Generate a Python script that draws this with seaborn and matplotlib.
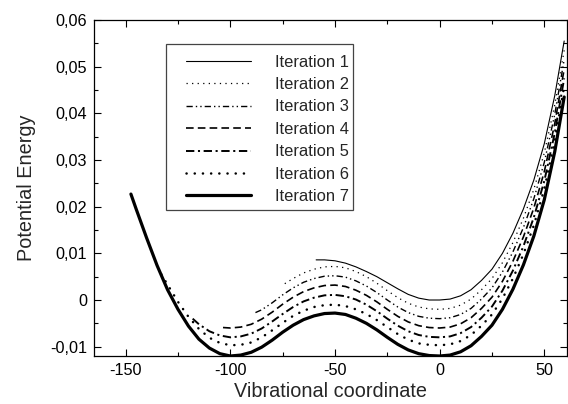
import matplotlib
matplotlib.use("Agg")
import matplotlib.pyplot as plt
import seaborn as sns
import pandas as pd
from matplotlib.patches import Rectangle
from matplotlib.ticker import MultipleLocator, FuncFormatter
from matplotlib.font_manager import FontProperties

# ---------------- data ----------------
labels = ["Iteration 1", "Iteration 2", "Iteration 3", "Iteration 4",
          "Iteration 5", "Iteration 6", "Iteration 7"]

x1 = [-59, -55, -50, -45, -40, -35, -30, -25, -20, -15, -10, -5, 0, 5, 10, 15,
      20, 25, 30, 35, 40, 45, 50, 55, 59.5]
y1 = [0.0086, 0.0086, 0.0084, 0.0079, 0.0071, 0.0061, 0.0050, 0.0037, 0.0024,
      0.0012, 0.0004, 0.0000, 0.0000, 0.0002, 0.0009, 0.0022, 0.0042, 0.0066,
      0.0100, 0.0143, 0.0195, 0.0257, 0.0335, 0.0438, 0.0555]

x2 = [-74, -70, -65, -60, -55, -50, -45, -40, -35, -30, -25, -20, -15, -10, -5,
      0, 5, 10, 15, 20, 25, 30, 35, 40, 45, 50, 55, 59.5]
y2 = [0.0035, 0.0046, 0.0058, 0.0066, 0.0071, 0.0072, 0.0069, 0.0061, 0.0050,
      0.0036, 0.0020, 0.0005, -0.0007, -0.0015, -0.0019, -0.0020, -0.0018,
      -0.0011, 0.0002, 0.0022, 0.0046, 0.0080, 0.0123, 0.0175, 0.0237, 0.0315,
      0.0418, 0.0535]

x3 = [-88, -85, -80, -75, -70, -65, -60, -55, -50, -45, -40, -35, -30, -25, -20,
      -15, -10, -5, 0, 5, 10, 15, 20, 25, 30, 35, 40, 45, 50, 55, 59.5]
y3 = [-0.0027, -0.0021, -0.0006, 0.0011, 0.0026, 0.0038, 0.0046, 0.0051,
      0.0052, 0.0049, 0.0041, 0.0030, 0.0016, 0.0000, -0.0015, -0.0027,
      -0.0035, -0.0039, -0.0040, -0.0038, -0.0031, -0.0018, 0.0002, 0.0026,
      0.0060, 0.0103, 0.0155, 0.0217, 0.0295, 0.0398, 0.0515]

x4 = [-103.5, -100, -95, -90, -85, -80, -75, -70, -65, -60, -55, -50, -45, -40,
      -35, -30, -25, -20, -15, -10, -5, 0, 5, 10, 15, 20, 25, 30, 35, 40, 45,
      50, 55, 59.5]
y4 = [-0.0059, -0.0060, -0.0058, -0.0052, -0.0041, -0.0026, -0.0009, 0.0006,
      0.0018, 0.0026, 0.0031, 0.0032, 0.0029, 0.0021, 0.0010, -0.0004,
      -0.0020, -0.0035, -0.0047, -0.0055, -0.0059, -0.0060, -0.0058, -0.0051,
      -0.0038, -0.0018, 0.0006, 0.0040, 0.0083, 0.0135, 0.0197, 0.0275,
      0.0378, 0.0495]

x5 = [-118, -115, -110, -105, -100, -95, -90, -85, -80, -75, -70, -65, -60, -55,
      -50, -45, -40, -35, -30, -25, -20, -15, -10, -5, 0, 5, 10, 15, 20, 25,
      30, 35, 40, 45, 50, 55, 59.5]
y5 = [-0.0040, -0.0052, -0.0067, -0.0076, -0.0080, -0.0078, -0.0072, -0.0061,
      -0.0046, -0.0030, -0.0015, -0.0003, 0.0005, 0.0010, 0.0011, 0.0008,
      0.0001, -0.0010, -0.0024, -0.0040, -0.0055, -0.0067, -0.0075, -0.0079,
      -0.0080, -0.0078, -0.0071, -0.0058, -0.0038, -0.0014, 0.0020, 0.0063,
      0.0115, 0.0177, 0.0255, 0.0358, 0.0475]

x6 = [-133, -130, -125, -120, -115, -110, -105, -100, -95, -90, -85, -80, -75,
      -70, -65, -60, -55, -50, -45, -40, -35, -30, -25, -20, -15, -10, -5, 0,
      5, 10, 15, 20, 25, 30, 35, 40, 45, 50, 55, 59.5]
y6 = [0.0055, 0.0033, -0.0004, -0.0036, -0.0062, -0.0081, -0.0092, -0.0097,
      -0.0096, -0.0091, -0.0080, -0.0065, -0.0049, -0.0034, -0.0023, -0.0015,
      -0.0011, -0.0010, -0.0013, -0.0020, -0.0030, -0.0043, -0.0058, -0.0073,
      -0.0085, -0.0093, -0.0096, -0.0097, -0.0095, -0.0088, -0.0075, -0.0055,
      -0.0031, 0.0003, 0.0046, 0.0098, 0.0160, 0.0238, 0.0341, 0.0458]

x7 = [-147.5, -145, -140, -135, -130, -125, -120, -115, -110, -105, -100, -95,
      -90, -85, -80, -75, -70, -65, -60, -55, -50, -45, -40, -35, -30, -25,
      -20, -15, -10, -5, 0, 5, 10, 15, 20, 25, 30, 35, 40, 45, 50, 55, 59.5]
y7 = [0.0227, 0.0195, 0.0133, 0.0074, 0.0022, -0.0020, -0.0056, -0.0084,
      -0.0103, -0.0115, -0.0120, -0.0118, -0.0112, -0.0101, -0.0086, -0.0069,
      -0.0054, -0.0042, -0.0034, -0.0029, -0.0028, -0.0031, -0.0039, -0.0050,
      -0.0064, -0.0080, -0.0095, -0.0107, -0.0115, -0.0119, -0.0120, -0.0118,
      -0.0111, -0.0098, -0.0078, -0.0054, -0.0020, 0.0023, 0.0075, 0.0137,
      0.0215, 0.0318, 0.0435]

xticks = [-150, -100, -50, 0, 50]
yticks = [-0.01, 0.0, 0.01, 0.02, 0.03, 0.04, 0.05, 0.06]

# ---------------- style ----------------
sns.set_style("ticks")
plt.rcParams["font.family"] = ["Liberation Sans", "DejaVu Sans"]
plt.rcParams["axes.unicode_minus"] = False
plt.rcParams["lines.scale_dashes"] = False

styles = [
    dict(lw=0.8, ls="-"),
    dict(lw=0.9, ls=(0, (0.9, 3.1))),
    dict(lw=1.0, ls=(0, (4.5, 2.2, 1.0, 2.2, 1.0, 2.2))),
    dict(lw=1.2, ls=(0, (5.5, 3.0))),
    dict(lw=1.4, ls=(0, (6.0, 2.6, 1.5, 2.6))),
    dict(lw=1.8, ls=(0, (0.1, 5.8)), cap="round"),
    dict(lw=2.3, ls="-"),
]

fig = plt.figure(figsize=(5.68, 4.04), dpi=100)
ax = fig.add_axes([0.166, 0.1188, 0.8317, 0.8317])

xs = [x1, x2, x3, x4, x5, x6, x7]
ys = [y1, y2, y3, y4, y5, y6, y7]
for lab, xv, yv, st in zip(labels, xs, ys, styles):
    df = pd.DataFrame({"x": xv, "y": yv})
    kw = {}
    if "cap" in st:
        kw["dash_capstyle"] = st["cap"]
    sns.lineplot(data=df, x="x", y="y", ax=ax, color="black", lw=st["lw"],
                 linestyle=st["ls"], sort=False, estimator=None, label=lab, **kw)

ax.set_xlim(-165, 60.7)
ax.set_ylim(-0.012, 0.06)
ax.set_xticks(xticks)
ax.set_yticks(yticks)
ax.xaxis.set_minor_locator(MultipleLocator(25))
ax.yaxis.set_minor_locator(MultipleLocator(0.005))
ax.yaxis.set_major_formatter(FuncFormatter(
    lambda v, p: "0" if abs(v) < 1e-9 else ("%.2f" % v).replace(".", ",")))
ax.xaxis.set_major_formatter(FuncFormatter(lambda v, p: "%d" % v))

ax.tick_params(which="both", direction="in", top=True, right=True,
               colors="black", labelsize=11.7, width=0.8, pad=5)
ax.tick_params(which="major", length=5)
ax.tick_params(which="minor", length=3)
for s in ax.spines.values():
    s.set_visible(True)
    s.set_linewidth(0.9)
    s.set_color("black")

ax.set_xlabel("Vibrational coordinate", fontsize=14.3, labelpad=3)
ax.set_ylabel("Potential Energy", fontsize=14.3, labelpad=10)

# legend
legfont = FontProperties(family=["Liberation Sans", "DejaVu Sans"], size=11.9)
leg = ax.legend(loc="upper left", bbox_to_anchor=(0.195, 0.897),
                frameon=False, prop=legfont, handlelength=3.9,
                handletextpad=1.45, labelspacing=0.45, borderpad=0,
                borderaxespad=0)
ax.add_patch(Rectangle((0.152, 0.4345), 0.396, 0.4941, transform=ax.transAxes,
                       fill=False, edgecolor="#444444", lw=0.9, zorder=5))

fig.savefig("out.png", dpi=100)
